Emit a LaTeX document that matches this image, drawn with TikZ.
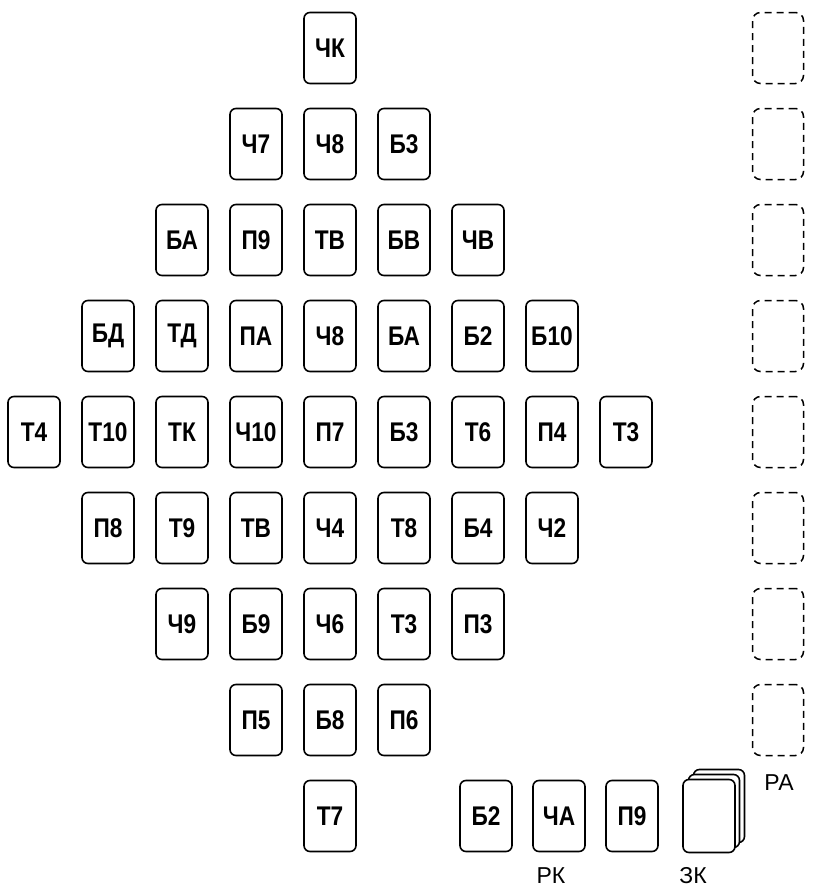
\documentclass[tikz,border=0pt]{standalone}
\usepackage{fontspec}
\setmainfont{Liberation Sans}
\newfontfamily\cardfont[FakeStretch=0.84]{Liberation Sans}
\begin{document}
\begin{tikzpicture}[x=1pt,y=-1pt,
  card/.style={draw,line width=1.6pt,rounded corners=6pt,minimum width=52pt,minimum height=71pt,inner sep=0pt,font=\cardfont\bfseries\fontsize{27}{27}\selectfont,fill=white},
  slot/.style={draw,line width=1.5pt,dashed,dash pattern=on 7pt off 5pt,rounded corners=8pt,minimum width=51pt,minimum height=71pt,inner sep=0pt},
  lbl/.style={font=\fontsize{23}{23}\selectfont,inner sep=0pt}]
\useasboundingbox (0,0) rectangle (812,889);
\def\cA{34}\def\cB{108}\def\cC{182}\def\cD{256}\def\cE{330}\def\cF{404}\def\cG{478}\def\cH{552}\def\cI{626}
% row 1
\node[card] (r1c4) at (\cE,48) {ЧК};
% row 2
\node[card] (r2c3) at (\cD,144) {Ч7};
\node[card] (r2c4) at (\cE,144) {Ч8};
\node[card] (r2c5) at (\cF,144) {Б3};
% row 3
\node[card] (r3c2) at (\cC,240) {БА};
\node[card] (r3c3) at (\cD,240) {П9};
\node[card] (r3c4) at (\cE,240) {ТВ};
\node[card] (r3c5) at (\cF,240) {БВ};
\node[card] (r3c6) at (\cG,240) {ЧВ};
% row 4
\node[card] (r4c1) at (\cB,336) {БД};
\node[card] (r4c2) at (\cC,336) {ТД};
\node[card] (r4c3) at (\cD,336) {ПА};
\node[card] (r4c4) at (\cE,336) {Ч8};
\node[card] (r4c5) at (\cF,336) {БА};
\node[card] (r4c6) at (\cG,336) {Б2};
\node[card] (r4c7) at (\cH,336) {Б10};
% row 5
\node[card] (r5c0) at (\cA,432) {Т4};
\node[card] (r5c1) at (\cB,432) {Т10};
\node[card] (r5c2) at (\cC,432) {ТК};
\node[card] (r5c3) at (\cD,432) {Ч10};
\node[card] (r5c4) at (\cE,432) {П7};
\node[card] (r5c5) at (\cF,432) {Б3};
\node[card] (r5c6) at (\cG,432) {Т6};
\node[card] (r5c7) at (\cH,432) {П4};
\node[card] (r5c8) at (\cI,432) {Т3};
% row 6
\node[card] (r6c1) at (\cB,528) {П8};
\node[card] (r6c2) at (\cC,528) {Т9};
\node[card] (r6c3) at (\cD,528) {ТВ};
\node[card] (r6c4) at (\cE,528) {Ч4};
\node[card] (r6c5) at (\cF,528) {Т8};
\node[card] (r6c6) at (\cG,528) {Б4};
\node[card] (r6c7) at (\cH,528) {Ч2};
% row 7
\node[card] (r7c2) at (\cC,624) {Ч9};
\node[card] (r7c3) at (\cD,624) {Б9};
\node[card] (r7c4) at (\cE,624) {Ч6};
\node[card] (r7c5) at (\cF,624) {Т3};
\node[card] (r7c6) at (\cG,624) {П3};
% row 8
\node[card] (r8c3) at (\cD,720) {П5};
\node[card] (r8c4) at (\cE,720) {Б8};
\node[card] (r8c5) at (\cF,720) {П6};
% row 9
\node[card] (r9c4) at (\cE,816) {Т7};
\node[card] (rk1) at (486,816) {Б2};
\node[card] (rk2) at (559,816) {ЧА};
\node[card] (rk3) at (632,816) {П9};
% stock pile
\node[card,minimum width=51pt,minimum height=73pt] (zk3) at (719,806) {};
\node[card,minimum width=51pt,minimum height=73pt] (zk2) at (714,811) {};
\node[card,minimum width=52pt,minimum height=73pt] (zk1) at (709,816) {};
% foundation slots
\foreach \i/\y in {1/48,2/144,3/240,4/336,5/432,6/528,7/624,8/720}
  \node[slot] (ra\i) at (778,\y) {};
% labels
\node[lbl] (rk) at (551,876) {РК};
\node[lbl] (zk) at (693,876) {ЗК};
\node[lbl] (ra) at (779,783) {РА};
\end{tikzpicture}
\end{document}
